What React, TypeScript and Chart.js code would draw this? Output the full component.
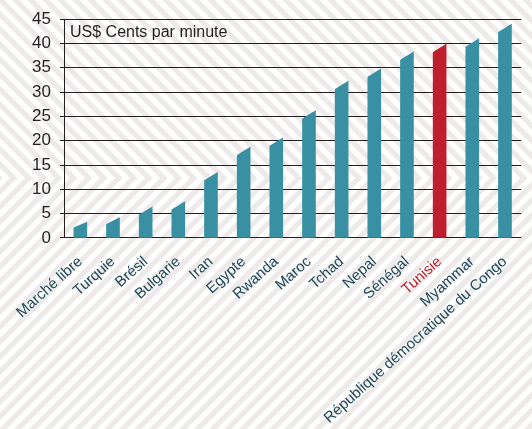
import React, { useEffect, useRef } from "react";
import { Chart, registerables } from "chart.js";

Chart.register(...registerables);

const categories = [
  "Marché libre",
  "Turquie",
  "Brésil",
  "Bulgarie",
  "Iran",
  "Egypte",
  "Rwanda",
  "Maroc",
  "Tchad",
  "Nepal",
  "Sénégal",
  "Tunisie",
  "Myammar",
  "République démocratique du Congo",
];

const values = [3.3, 4.3, 6.5, 7.6, 13.6, 18.8, 20.7, 26.3, 32.4, 34.9, 38.4, 40.0, 41.1, 44.1];

const highlighted = "Tunisie";
const unitLabel = "US$ Cents par minute";
const yMin = 0;
const yMax = 45;
const yStep = 5;

const TEAL = "#3a90a3";
const RED = "#be1e2d";
const LABEL_TEAL = "#1b4757";
const DARK = "#231f20";
const STRIPE = "#eeeaea";
const FONT = "'Liberation Sans', Arial, Helvetica, sans-serif";

const backgroundPlugin = {
  id: "stripedBg",
  beforeDraw(chart: any) {
    const { ctx, width, height } = chart;
    ctx.save();
    ctx.fillStyle = "#ffffff";
    ctx.fillRect(0, 0, width, height);
    ctx.fillStyle = STRIPE;
    const y0 = 178;
    const P = 15;
    const w = 7.5;
    const D = 900;
    for (let s = -20; s < width + D; s += P) {
      ctx.beginPath();
      ctx.moveTo(s, y0);
      ctx.lineTo(s + w, y0);
      ctx.lineTo(s + w - D, y0 - D);
      ctx.lineTo(s - D, y0 - D);
      ctx.closePath();
      ctx.fill();
      ctx.beginPath();
      ctx.moveTo(s, y0);
      ctx.lineTo(s + w, y0);
      ctx.lineTo(s + w - D, y0 + D);
      ctx.lineTo(s - D, y0 + D);
      ctx.closePath();
      ctx.fill();
    }
    ctx.restore();
  },
};

const slantPlugin = {
  id: "slantTops",
  beforeDatasetDraw(chart: any, args: any) {
    const meta = chart.getDatasetMeta(args.index);
    const ctx = chart.ctx;
    ctx.save();
    ctx.beginPath();
    meta.data.forEach((bar: any) => {
      const props = bar.getProps(["x", "y", "base", "width"], true);
      const left = props.x - props.width / 2 - 1;
      const right = props.x + props.width / 2 + 1;
      const h = props.base - props.y;
      const slant = Math.min(9, 0.33 * h + 0.8);
      ctx.moveTo(left, props.base + 2);
      ctx.lineTo(left, props.y + slant);
      ctx.lineTo(right, props.y - 0.3);
      ctx.lineTo(right, props.base + 2);
      ctx.closePath();
    });
    ctx.clip();
  },
  afterDatasetDraw(chart: any) {
    chart.ctx.restore();
  },
};

const unitLabelPlugin = {
  id: "unitLabel",
  afterDraw(chart: any) {
    const { ctx, chartArea } = chart;
    ctx.save();
    ctx.font = `16px ${FONT}`;
    ctx.fillStyle = DARK;
    ctx.textAlign = "left";
    ctx.textBaseline = "alphabetic";
    ctx.fillText(unitLabel, chartArea.left + 6, chartArea.top + 17.5);
    ctx.restore();
  },
};

export default function App() {
  const ref = useRef<HTMLCanvasElement | null>(null);

  useEffect(() => {
    document.body.style.margin = "0";
    const canvas = ref.current;
    if (!canvas) return;
    const chart = new Chart(canvas, {
      type: "bar",
      data: {
        labels: categories,
        datasets: [
          {
            data: values,
            backgroundColor: categories.map((c) => (c === highlighted ? RED : TEAL)),
            borderWidth: 0,
            barThickness: 13,
          },
        ],
      },
      options: {
        animation: false,
        responsive: true,
        maintainAspectRatio: false,
        devicePixelRatio: 1,
        layout: { padding: { top: 19, right: 0, bottom: -13, left: 0 } },
        plugins: {
          legend: { display: false },
          tooltip: { enabled: false },
          title: { display: false },
        },
        scales: {
          x: {
            grid: { display: false, drawTicks: false },
            border: { display: false },
            ticks: {
              autoSkip: false,
              minRotation: 42,
              maxRotation: 42,
              padding: 15,
              font: { family: FONT, size: 15 },
              color: (c: any) => (categories[c.index] === highlighted ? RED : LABEL_TEAL),
            },
          },
          y: {
            min: yMin,
            max: yMax,
            afterFit: (scale: any) => {
              scale.width = 64;
            },
            grid: {
              color: DARK,
              lineWidth: 1,
              tickLength: 4,
              drawTicks: true,
            },
            border: { display: true, color: DARK, width: 1 },
            ticks: {
              stepSize: yStep,
              padding: 9,
              color: DARK,
              font: { family: FONT, size: 17 },
            },
          },
        },
      },
      plugins: [backgroundPlugin, slantPlugin, unitLabelPlugin],
    });
    return () => chart.destroy();
  }, []);

  return (
    <div style={{ position: "fixed", left: 0, top: 0, width: 532, height: 429 }}>
      <canvas ref={ref} />
    </div>
  );
}
